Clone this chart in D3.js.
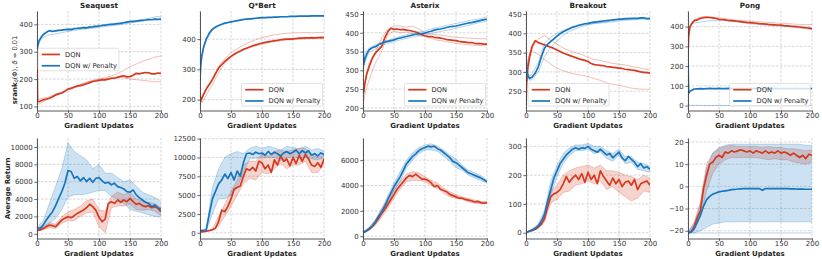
<!DOCTYPE html>
<html>
<head>
<meta charset="utf-8">
<script src="https://cdn.jsdelivr.net/npm/d3@7/dist/d3.min.js"></script>
<style>
body { margin: 0; background: #fff; }
text { font-family: "DejaVu Sans", sans-serif; fill: #262626; }
</style>
</head>
<body>
<svg id="base" width="822" height="259"></svg>
<script>
// logged update steps (x values)
let topSteps = [0, 1, 3, 6, 10, 15, 20, 25, 30, 35, 40, 45, 50, 55, 60, 65, 70, 75, 80, 85, 90, 95, 100,
    105, 110, 115, 120, 125, 130, 135, 140, 145, 150, 155, 160, 165, 170, 175, 180, 185, 190, 195, 200]
let seedSteps = [0, 1, 3, 6, 10, 20, 30, 40, 50, 60, 70, 80, 90, 100, 110, 120, 130, 140, 150, 160, 170, 180, 190, 200]
let bottomSteps = [0, 5, 10, 15, 20, 25, 30, 35, 40, 45, 50, 55, 60, 65, 70, 75, 80, 85, 90, 95, 100,
    105, 110, 115, 120, 125, 130, 135, 140, 145, 150, 155, 160, 165, 170, 175, 180, 185, 190, 195, 200]
let bandSteps = [0, 10, 20, 30, 40, 50, 60, 70, 80, 90, 100, 110, 120, 130, 140, 150, 160, 170, 180, 190, 200]
let xTicks = [0, 50, 100, 150, 200]

let games = ['Seaquest', 'Q*Bert', 'Asterix', 'Breakout', 'Pong']
let legendNames = ['DQN', 'DQN w/ Penalty']

// ---- srank (top row) ----
let seaquestSrankDqn = [300, 118, 117, 120, 124, 127, 130, 135, 142, 146, 149, 155, 163, 166, 170, 174, 176, 179, 183, 187, 191, 193,
    195, 197, 197, 200, 203, 203, 206, 210, 212, 208, 209, 214, 221, 219, 222, 224, 223, 219, 219, 222, 221]
let seaquestSrankPen = [300, 320, 338, 350, 362, 371, 377, 374, 376, 378, 379, 381, 382, 381, 384, 385, 386, 388, 387, 390, 391, 393,
    394, 396, 397, 399, 400, 401, 403, 404, 406, 408, 410, 411, 412, 414, 415, 416, 418, 417, 419, 418, 419]
let seaquestSrankDqnSeeds = [
    [300, 112, 108, 112, 118, 128, 140, 150, 162, 172, 180, 188, 195, 200, 205, 212, 220, 232, 245, 255, 265, 272, 280, 285],
    [300, 125, 126, 128, 130, 135, 145, 152, 165, 172, 180, 188, 194, 200, 202, 205, 208, 205, 200, 198, 195, 193, 190, 190]
]
let seaquestSrankPenSeeds = [
    [300, 310, 330, 345, 352, 362, 365, 370, 374, 378, 381, 384, 386, 390, 392, 395, 398, 402, 405, 409, 412, 416, 420, 423],
    [300, 330, 345, 355, 365, 378, 378, 380, 383, 386, 389, 391, 394, 396, 399, 402, 405, 408, 411, 414, 418, 422, 427, 430]
]

let qbertSrankDqn = [222, 195, 205, 218, 235, 250, 266, 286, 304, 316, 326, 335, 343, 350, 356, 361, 366, 370, 374, 378, 381, 384,
    387, 389, 391, 393, 395, 396, 398, 399, 400, 400, 401, 402, 403, 403, 404, 404, 405, 404, 405, 406, 405]
let qbertSrankPen = [266, 310, 345, 375, 400, 420, 433, 440, 445, 449, 453, 455, 457, 459, 461, 463, 465, 466, 467, 468, 469, 470,
    471, 471, 472, 472, 473, 473, 474, 474, 474, 475, 475, 475, 476, 476, 476, 476, 477, 477, 477, 477, 477]
let qbertSrankDqnSeeds = [
    [180, 190, 200, 215, 235, 270, 310, 335, 355, 368, 380, 390, 398, 405, 410, 414, 417, 419, 421, 421, 422, 421, 422, 422],
    [250, 200, 190, 200, 215, 250, 290, 320, 340, 354, 364, 372, 378, 384, 388, 392, 395, 397, 398, 400, 401, 402, 403, 404]
]
let qbertSrankPenSeeds = [
    [250, 300, 340, 370, 395, 430, 443, 451, 456, 460, 464, 466, 468, 470, 471, 472, 473, 474, 474, 475, 475, 476, 476, 476]
]

let asterixSrankDqn = [255, 240, 265, 290, 310, 332, 346, 355, 363, 386, 403, 412, 409, 410, 408, 409, 407, 406, 404, 402, 399, 395,
    392, 390, 390, 388, 387, 386, 384, 382, 381, 380, 379, 377, 376, 375, 374, 374, 372, 371, 371, 370, 370]
let asterixSrankPen = [390, 315, 330, 343, 355, 360, 363, 368, 372, 375, 377, 379, 381, 384, 386, 388, 390, 392, 394, 396, 397, 398,
    399, 402, 404, 407, 409, 410, 412, 414, 416, 417, 418, 420, 422, 424, 426, 427, 429, 431, 433, 435, 436]
let asterixSrankDqnSeeds = [
    [230, 245, 270, 295, 320, 350, 385, 410, 418, 418, 415, 418, 410, 400, 396, 395, 393, 390, 388, 387, 386, 385, 384, 384],
    [200, 215, 235, 255, 275, 320, 350, 395, 405, 400, 402, 398, 392, 390, 385, 380, 378, 375, 372, 370, 368, 367, 366, 365]
]
let asterixSrankPenSeeds = [
    [380, 320, 340, 352, 360, 368, 375, 380, 385, 390, 395, 398, 402, 405, 410, 414, 418, 421, 425, 428, 432, 435, 438, 442],
    [385, 305, 320, 335, 348, 357, 366, 372, 376, 381, 385, 389, 392, 394, 398, 402, 405, 408, 412, 416, 420, 424, 428, 431]
]

let breakoutSrankDqn = [215, 270, 310, 340, 366, 381, 376, 373, 370, 367, 364, 361, 357, 353, 349, 346, 343, 340, 337, 334, 332, 330,
    327, 322, 319, 318, 317, 316, 314, 313, 312, 311, 310, 309, 307, 306, 305, 304, 302, 300, 299, 298, 297]
let breakoutSrankPen = [350, 305, 290, 283, 287, 297, 314, 340, 362, 372, 379, 386, 393, 399, 404, 408, 412, 416, 418, 421, 423, 425,
    426, 428, 429, 430, 431, 432, 433, 434, 435, 436, 437, 437, 438, 438, 439, 439, 439, 440, 440, 438, 438]
let breakoutSrankDqnSeeds = [
    [230, 280, 320, 350, 370, 385, 395, 382, 372, 362, 355, 350, 345, 338, 332, 330, 326, 322, 320, 318, 314, 312, 308, 305],
    [240, 290, 330, 350, 355, 345, 332, 320, 310, 303, 298, 294, 291, 288, 283, 278, 272, 268, 265, 262, 258, 256, 255, 255]
]
let breakoutSrankPenSeeds = [
    [350, 300, 285, 278, 280, 300, 340, 365, 380, 395, 405, 412, 418, 422, 425, 428, 430, 433, 435, 436, 437, 438, 439, 440],
    [350, 310, 295, 290, 295, 325, 375, 390, 400, 408, 414, 418, 421, 424, 426, 427, 428, 430, 432, 434, 435, 436, 437, 437]
]

let pongSrankDqn = [250, 350, 395, 415, 430, 434, 442, 445, 447, 446, 444, 441, 437, 436, 434, 431, 430, 429, 427, 425, 423, 421,
    420, 419, 417, 415, 414, 413, 411, 410, 409, 408, 407, 405, 404, 402, 401, 400, 398, 396, 394, 392, 390]
let pongSrankPen = [250, 62, 72, 78,
    84, 85, 86, 85, 86, 87, 86, 86, 87, 86, 86, 87, 86, 86, 86, 87, 86, 86, 86, 86,
    87, 86, 86, 86, 86, 86, 87, 86, 86, 86, 86, 86, 86, 87, 86, 86, 86, 86, 86]
let pongSrankDqnSeeds = [
    [260, 360, 400, 420, 435, 448, 450, 448, 444, 440, 436, 432, 430, 428, 426, 423, 421, 419, 417, 415, 413, 411, 410, 410]
]
let pongSrankPenSeeds = [
    [250, 380, 405, 415, 418, 423, 428, 430, 430, 430, 426, 423, 418, 415, 412, 409, 406, 404, 402, 399, 396, 393, 389, 385],
    [250, 2, 1, 1, 1, 1, 0, 0, 0, 0, 0, 0, 0, 0, 0, 0, 0, 0, 0, 0, 0, 0, 0, 0]
]

// ---- average return (bottom row) ----
let seaquestReturnDqn = [425, 425, 620, 810, 1000, 930, 810, 1200, 1580, 1780, 1970, 1850, 2085, 2350, 2550, 2740, 3010, 3400, 3130, 2700,
    1900, 1400, 1700, 3500, 3700, 3510, 3900, 3630, 3900, 3700, 4090, 3700, 3400, 3510, 3240, 3130, 3240, 3010, 3130, 2930, 2550]
let seaquestReturnDqnHi = [600, 800, 1300, 1100, 2000, 2500, 2800, 3200, 3800, 4000, 2800, 2600, 4300, 4800, 4500, 4800, 4000, 3800, 3600, 3500, 3000]
let seaquestReturnDqnLo = [300, 450, 700, 600, 1200, 1500, 1500, 2000, 2400, 2500, 800, 100, 3000, 3200, 3200, 3400, 2800, 2700, 2800, 2600, 2100]
let seaquestReturnPen = [695, 620, 1000, 1580, 2085, 2550, 3240, 4090, 4860, 5830, 7300, 7180, 6400, 6600, 6100, 6480, 6020, 6400, 5940, 6400,
    6480, 6100, 5830, 5940, 5640, 5830, 5440, 5330, 5170, 4860, 4790, 5060, 4480, 4170, 3900, 3630, 3510, 3130, 3320, 3010, 2820]
let seaquestReturnPenHi = [800, 1500, 3500, 5500, 7500, 10500, 9500, 9000, 8500, 7500, 8000, 7000, 7000, 6500, 6000, 6200, 5500, 4800, 4500, 4200, 3700]
let seaquestReturnPenLo = [500, 600, 1200, 1800, 2800, 4200, 4500, 4500, 4600, 4800, 5000, 5000, 4300, 4000, 3500, 2800, 2600, 2400, 2200, 2000, 1900]

let qbertReturnDqn = [100, 150, 200, 300, 400, 600, 1500, 3000, 2800, 3500, 4500, 5800, 6000, 6200, 7500, 8500, 8300, 8700, 8200, 9500,
    9300, 8500, 9000, 8000, 9700, 9000, 10200, 9500, 9800, 8900, 10000, 9200, 10300, 9500, 10400, 9800, 9000, 8800, 9300, 8700, 9800]
let qbertReturnDqnHi = [150, 250, 500, 2200, 3800, 5500, 7000, 9000, 9500, 9500, 10500, 10200, 10800, 11000, 10800, 11000, 11200, 11200, 10300, 10000, 10400]
let qbertReturnDqnLo = [50, 150, 300, 900, 2200, 3500, 5000, 6500, 7200, 7000, 8000, 7800, 8500, 9200, 8500, 9000, 9000, 9500, 8000, 8000, 9000]
let qbertReturnPen = [300, 300, 350, 2500, 4500, 5500, 6500, 7000, 7800, 7200, 8000, 7000, 8200, 7500, 9300, 10500, 10600, 10400, 10700, 10500,
    10600, 10300, 10800, 10400, 10700, 10500, 10200, 10600, 10800, 10500, 10700, 11000, 10500, 10900, 10600, 10900, 10300, 10500, 10200, 10600, 10400]
let qbertReturnPenHi = [400, 500, 6000, 8500, 10000, 10500, 10800, 10500, 11200, 11500, 11200, 11500, 11300, 11000, 11500, 11300, 11200, 11500, 11000, 11200, 10900]
let qbertReturnPenLo = [200, 200, 2500, 4500, 4500, 5000, 6000, 8000, 9800, 9900, 10000, 10000, 10000, 9600, 10000, 10100, 9900, 10000, 9800, 9700, 9900]

let asterixReturnDqn = [300, 400, 550, 750, 1050, 1400, 1800, 2100, 2500, 2900, 3300, 3700, 4000, 4300, 4600, 4800, 4700, 4900, 4700, 4500,
    4500, 4400, 4200, 3900, 4000, 3700, 3600, 3500, 3300, 3200, 3100, 3000, 3000, 2900, 2850, 2800, 2700, 2750, 2650, 2600, 2650]
let asterixReturnDqnHi = [350, 650, 1300, 2200, 2900, 3600, 4300, 4900, 5100, 5000, 4700, 4400, 4200, 3800, 3500, 3300, 3100, 3000, 2850, 2750, 2750]
let asterixReturnDqnLo = [250, 450, 850, 1500, 2200, 3000, 3700, 4300, 4400, 4400, 4300, 4000, 3800, 3400, 3100, 3000, 2900, 2700, 2600, 2550, 2550]
let asterixReturnPen = [300, 400, 600, 800, 1150, 1550, 1900, 2350, 2900, 3400, 3900, 4300, 4700, 5200, 5700, 6000, 6300, 6500, 6750, 6900,
    7000, 7100, 7050, 7100, 6900, 6800, 6600, 6400, 6200, 5900, 5800, 5600, 5400, 5200, 5000, 4900, 4800, 4700, 4600, 4450, 4300]
let asterixReturnPenHi = [350, 700, 1300, 2100, 3200, 4200, 5100, 6000, 6600, 7000, 7200, 7300, 7100, 6800, 6400, 6100, 5600, 5200, 5000, 4800, 4400]
let asterixReturnPenLo = [250, 500, 1000, 1700, 2600, 3600, 4300, 5400, 6000, 6500, 6800, 6800, 6700, 6300, 5900, 5400, 5200, 4800, 4600, 4400, 4200]

let breakoutReturnDqn = [0, 5, 8, 12, 20, 30, 50, 90, 125, 135, 140, 150, 170, 195, 175, 190, 200, 185, 205, 175,
    210, 185, 200, 170, 215, 195, 180, 165, 190, 170, 185, 160, 175, 180, 165, 185, 150, 170, 175, 180, 165]
let breakoutReturnDqnHi = [2, 12, 28, 65, 145, 165, 200, 215, 225, 230, 235, 225, 235, 215, 215, 210, 200, 195, 185, 200, 190]
let breakoutReturnDqnLo = [0, 5, 15, 38, 105, 115, 140, 145, 165, 170, 180, 170, 180, 150, 160, 140, 125, 110, 120, 145, 140]
let breakoutReturnPen = [0, 5, 10, 15, 25, 40, 65, 110, 150, 190, 215, 240, 255, 270, 280, 290, 295, 290, 295, 293,
    300, 290, 285, 280, 290, 280, 270, 275, 260, 270, 280, 260, 250, 265, 255, 245, 230, 240, 225, 230, 220]
let breakoutReturnPenHi = [2, 12, 30, 80, 180, 235, 275, 295, 305, 305, 310, 300, 300, 285, 275, 290, 265, 265, 245, 240, 232]
let breakoutReturnPenLo = [0, 8, 20, 55, 130, 195, 240, 268, 285, 285, 290, 275, 280, 258, 248, 268, 240, 245, 220, 215, 210]

let pongReturnDqn = [-21, -20.5, -18, -14, -11, -1, 5, 10, 11, 13, 14, 13, 15.5, 15, 16, 15.5, 16, 16.5, 16, 15.5,
    16, 15, 16, 15.5, 15, 16, 15, 15.5, 15, 16, 15, 15.5, 15, 14, 15, 14, 13, 14, 12.5, 14.5, 14]
let pongReturnDqnHi = [-20.5, -16, -7, 10, 15, 17, 18, 18.5, 18, 18, 18, 18, 17.5, 18, 17.5, 17.5, 17, 17, 16.5, 16, 16.5]
let pongReturnDqnLo = [-21, -20, -14, -2, 6, 10, 12, 13, 13, 13, 13, 13, 12.5, 12, 12.5, 12, 12, 11, 10.5, 10, 11]
let pongReturnPen = [-21, -20.5, -19, -16, -13, -9, -6, -4.5, -3.5, -3, -2.5, -2.2, -2, -1.8, -1.5, -1.4, -1.2, -1.1, -1, -1,
    -1, -1, -1, -1, -1.8, -1, -1, -1, -1, -1, -1, -1, -1, -1.1, -1.1, -1.2, -1.2, -1.2, -1.3, -1.3, -1.3]
let pongReturnPenHi = [-20.5, -17, -8, 8, 15, 17.5, 18.5, 19, 19, 19, 19, 19, 19, 19, 19, 19, 19, 19, 19, 18.5, 18.5]
let pongReturnPenLo = [-21, -21, -20, -18.5, -17, -16.5, -16, -16, -16, -16, -16, -16, -16, -16, -16, -16, -16, -16, -16, -16, -16]
let pongReturnPenSeeds = [
    [-21, -21, -21, -21, -21, -21, -21, -21, -21, -21, -21, -21, -21, -21, -21, -21, -21, -21, -21, -21, -21]
]

let seaquestSrankTicks = [100, 200, 300, 400]
let qbertSrankTicks = [200, 300, 400]
let asterixSrankTicks = [200, 250, 300, 350, 400, 450]
let breakoutSrankTicks = [250, 300, 350, 400, 450]
let pongSrankTicks = [0, 100, 200, 300, 400]
let seaquestReturnTicks = [0, 2000, 4000, 6000, 8000, 10000]
let qbertReturnTicks = [0, 2500, 5000, 7500, 10000, 12500]
let asterixReturnTicks = [0, 2000, 4000, 6000]
let breakoutReturnTicks = [0, 100, 200, 300]
let pongReturnTicks = [-20, -10, 0, 10, 20]

// layout
let colLeft = [37, 200, 363, 526, 688]
let plotW = 124
let rowTop = [11, 138]
let rowBottom = [110.5, 238.5]
let red = '#d6391f'
let blue = '#1776bf'
let gridColor = '#c4c4c4'

const base = d3.select('#base')

function topPanel(i, domain, ticks, legend, dqn, pen, dqnSeeds, penSeeds) {
    return {
        row: 0, col: i, title: games[i], domain: domain, ticks: ticks, legend: legend,
        series: [
            { color: red, steps: topSteps, mean: dqn, seedX: seedSteps, seeds: dqnSeeds },
            { color: blue, steps: topSteps, mean: pen, seedX: seedSteps, seeds: penSeeds }
        ]
    }
}

function bottomPanel(i, domain, ticks, dqn, dqnLo, dqnHi, pen, penLo, penHi, penSeeds) {
    return {
        row: 1, col: i, domain: domain, ticks: ticks,
        series: [
            { color: red, steps: bottomSteps, mean: dqn, lo: dqnLo, hi: dqnHi, seedX: bandSteps, seeds: [] },
            { color: blue, steps: bottomSteps, mean: pen, lo: penLo, hi: penHi, seedX: bandSteps, seeds: penSeeds || [] }
        ]
    }
}

let panels = [
    topPanel(0, [85, 449], seaquestSrankTicks, 'cl', seaquestSrankDqn, seaquestSrankPen, seaquestSrankDqnSeeds, seaquestSrankPenSeeds),
    topPanel(1, [164, 493], qbertSrankTicks, 'lr', qbertSrankDqn, qbertSrankPen, qbertSrankDqnSeeds, qbertSrankPenSeeds),
    topPanel(2, [193, 458], asterixSrankTicks, 'lr', asterixSrankDqn, asterixSrankPen, asterixSrankDqnSeeds, asterixSrankPenSeeds),
    topPanel(3, [200, 458], breakoutSrankTicks, 'll', breakoutSrankDqn, breakoutSrankPen, breakoutSrankDqnSeeds, breakoutSrankPenSeeds),
    topPanel(4, [-25, 479], pongSrankTicks, 'lr', pongSrankDqn, pongSrankPen, pongSrankDqnSeeds, pongSrankPenSeeds),
    bottomPanel(0, [-545, 11043], seaquestReturnTicks, seaquestReturnDqn, seaquestReturnDqnLo, seaquestReturnDqnHi,
        seaquestReturnPen, seaquestReturnPenLo, seaquestReturnPenHi),
    bottomPanel(1, [-760, 12590], qbertReturnTicks, qbertReturnDqn, qbertReturnDqnLo, qbertReturnDqnHi,
        qbertReturnPen, qbertReturnPenLo, qbertReturnPenHi),
    bottomPanel(2, [-180, 7745], asterixReturnTicks, asterixReturnDqn, asterixReturnDqnLo, asterixReturnDqnHi,
        asterixReturnPen, asterixReturnPenLo, asterixReturnPenHi),
    bottomPanel(3, [-20, 329], breakoutReturnTicks, breakoutReturnDqn, breakoutReturnDqnLo, breakoutReturnDqnHi,
        breakoutReturnPen, breakoutReturnPenLo, breakoutReturnPenHi),
    bottomPanel(4, [-23.5, 21.8], pongReturnTicks, pongReturnDqn, pongReturnDqnLo, pongReturnDqnHi,
        pongReturnPen, pongReturnPenLo, pongReturnPenHi, pongReturnPenSeeds)
]

function drawPanel(p) {
    let x0 = colLeft[p.col], yTop = rowTop[p.row], yBot = rowBottom[p.row]
    let x = d3.scaleLinear().domain([0, 200]).range([x0, x0 + plotW])
    let y = d3.scaleLinear().domain(p.domain).range([yBot, yTop])
    let g = base.append('g')

    let clipId = 'clip' + p.row + '_' + p.col
    base.append('clipPath').attr('id', clipId).append('rect')
        .attr('x', x0).attr('y', yTop).attr('width', plotW).attr('height', yBot - yTop)

    // grid
    g.append('g').selectAll('line').data(xTicks).join('line')
        .attr('x1', d => x(d)).attr('x2', d => x(d)).attr('y1', yTop).attr('y2', yBot)
        .style('stroke', gridColor).style('stroke-width', 0.7).style('stroke-dasharray', '2.5,1.5')
    g.append('g').selectAll('line').data(p.ticks).join('line')
        .attr('x1', x0).attr('x2', x0 + plotW).attr('y1', d => y(d)).attr('y2', d => y(d))
        .style('stroke', gridColor).style('stroke-width', 0.7).style('stroke-dasharray', '2.5,1.5')

    let marks = g.append('g').attr('clip-path', 'url(#' + clipId + ')')
    let lineOf = xs => d3.line().x((d, i) => x(xs[i])).y(d => y(d))
    let area = d3.area().x(d => x(d[0])).y0(d => y(d[1])).y1(d => y(d[2]))

    // light stuff first: bands + individual seeds
    p.series.forEach(s => {
        if (s.lo) {
            marks.append('path').datum(d3.zip(bandSteps, s.lo, s.hi)).attr('d', area)
                .style('fill', s.color).style('fill-opacity', 0.22).style('stroke', 'none')
            ;[s.lo, s.hi].forEach(b => {
                marks.append('path').datum(b).attr('d', lineOf(bandSteps))
                    .style('fill', 'none').style('stroke', s.color).style('stroke-opacity', 0.3).style('stroke-width', 0.8)
            })
        }
        s.seeds.forEach(sd => {
            marks.append('path').datum(sd).attr('d', lineOf(s.seedX))
                .style('fill', 'none').style('stroke', s.color).style('stroke-opacity', 0.33).style('stroke-width', 1)
        })
    })
    p.series.forEach(s => {
        marks.append('path').datum(s.mean).attr('d', lineOf(s.steps))
            .style('fill', 'none').style('stroke', s.color).style('stroke-width', 1.7)
            .style('stroke-linejoin', 'round')
    })

    // axes
    let fmt = d3.format('d')
    let xa = g.append('g').attr('transform', 'translate(0,' + yBot + ')')
        .call(d3.axisBottom(x).tickValues(xTicks).tickFormat(fmt).tickSize(2.5).tickSizeOuter(0))
    xa.selectAll('text').attr('y', 2.2).attr('dy', '0.71em')
    let ya = g.append('g').attr('transform', 'translate(' + x0 + ',0)')
        .call(d3.axisLeft(y).tickValues(p.ticks).tickFormat(fmt).tickSize(2.7).tickPadding(1.6).tickSizeOuter(0))
    ;[xa, ya].forEach(a => {
        a.attr('color', '#444')
        a.select('.domain').style('stroke-width', 0.9)
        a.selectAll('.tick line').style('stroke-width', 0.8)
        a.selectAll('text').style('font-size', '7px').style('fill', '#333')
    })

    g.append('text').attr('x', x0 + plotW / 2).attr('y', yBot + 17.3)
        .attr('text-anchor', 'middle').style('font-size', '7px').style('font-weight', 'bold')
        .text('Gradient Updates')

    if (p.title) {
        g.append('text').attr('x', x0 + plotW / 2).attr('y', 8.3)
            .attr('text-anchor', 'middle').style('font-size', '7.2px').style('font-weight', 'bold')
            .text(p.title)
    }
    if (p.legend) drawLegend(p, x0, yTop, yBot)
}

function drawLegend(p, x0, yTop, yBot) {
    let w = 81, h = 22.5
    let lx = p.legend == 'lr' ? x0 + plotW - 1.5 - w : x0 + (p.legend == 'cl' ? 1 : 2)
    let ly = p.legend == 'cl' ? (yTop + yBot) / 2 - 12.5 : yBot - 4.5 - h
    let lg = base.append('g').attr('transform', 'translate(' + lx + ',' + ly + ')')
    lg.append('rect').attr('width', w).attr('height', h).attr('rx', 1.5)
        .style('fill', '#fff').style('fill-opacity', 0.8).style('stroke', '#cccccc').style('stroke-width', 0.6)
    legendNames.forEach((name, i) => {
        let yy = 6.2 + i * 11.3
        lg.append('line').attr('x1', 3.7).attr('x2', 22).attr('y1', yy).attr('y2', yy)
            .style('stroke', p.series[i].color).style('stroke-width', 1.7)
        lg.append('text').attr('x', 27).attr('y', yy).attr('dy', '0.35em')
            .style('font-size', '6.7px').text(name)
    })
}

panels.forEach(drawPanel)

// y labels of the first column
let srankLabel = base.append('text').attr('transform', 'translate(16.5,70) rotate(-90)')
    .attr('text-anchor', 'middle')
srankLabel.append('tspan').style('font-size', '7px').style('font-weight', 'bold').text('srank')
srankLabel.append('tspan').style('font-size', '5px').style('font-style', 'italic').attr('dy', 1.4).text('δ')
srankLabel.append('tspan').style('font-size', '6.7px').attr('dy', -1.4).text('(Φ), ')
srankLabel.append('tspan').style('font-size', '6.7px').style('font-style', 'italic').text('δ')
srankLabel.append('tspan').style('font-size', '6.7px').text(' = 0.01')

base.append('text').attr('transform', 'translate(9.5,188.3) rotate(-90)')
    .attr('text-anchor', 'middle').style('font-size', '7px').style('font-weight', 'bold')
    .text('Average Return')
</script>
</body>
</html>
